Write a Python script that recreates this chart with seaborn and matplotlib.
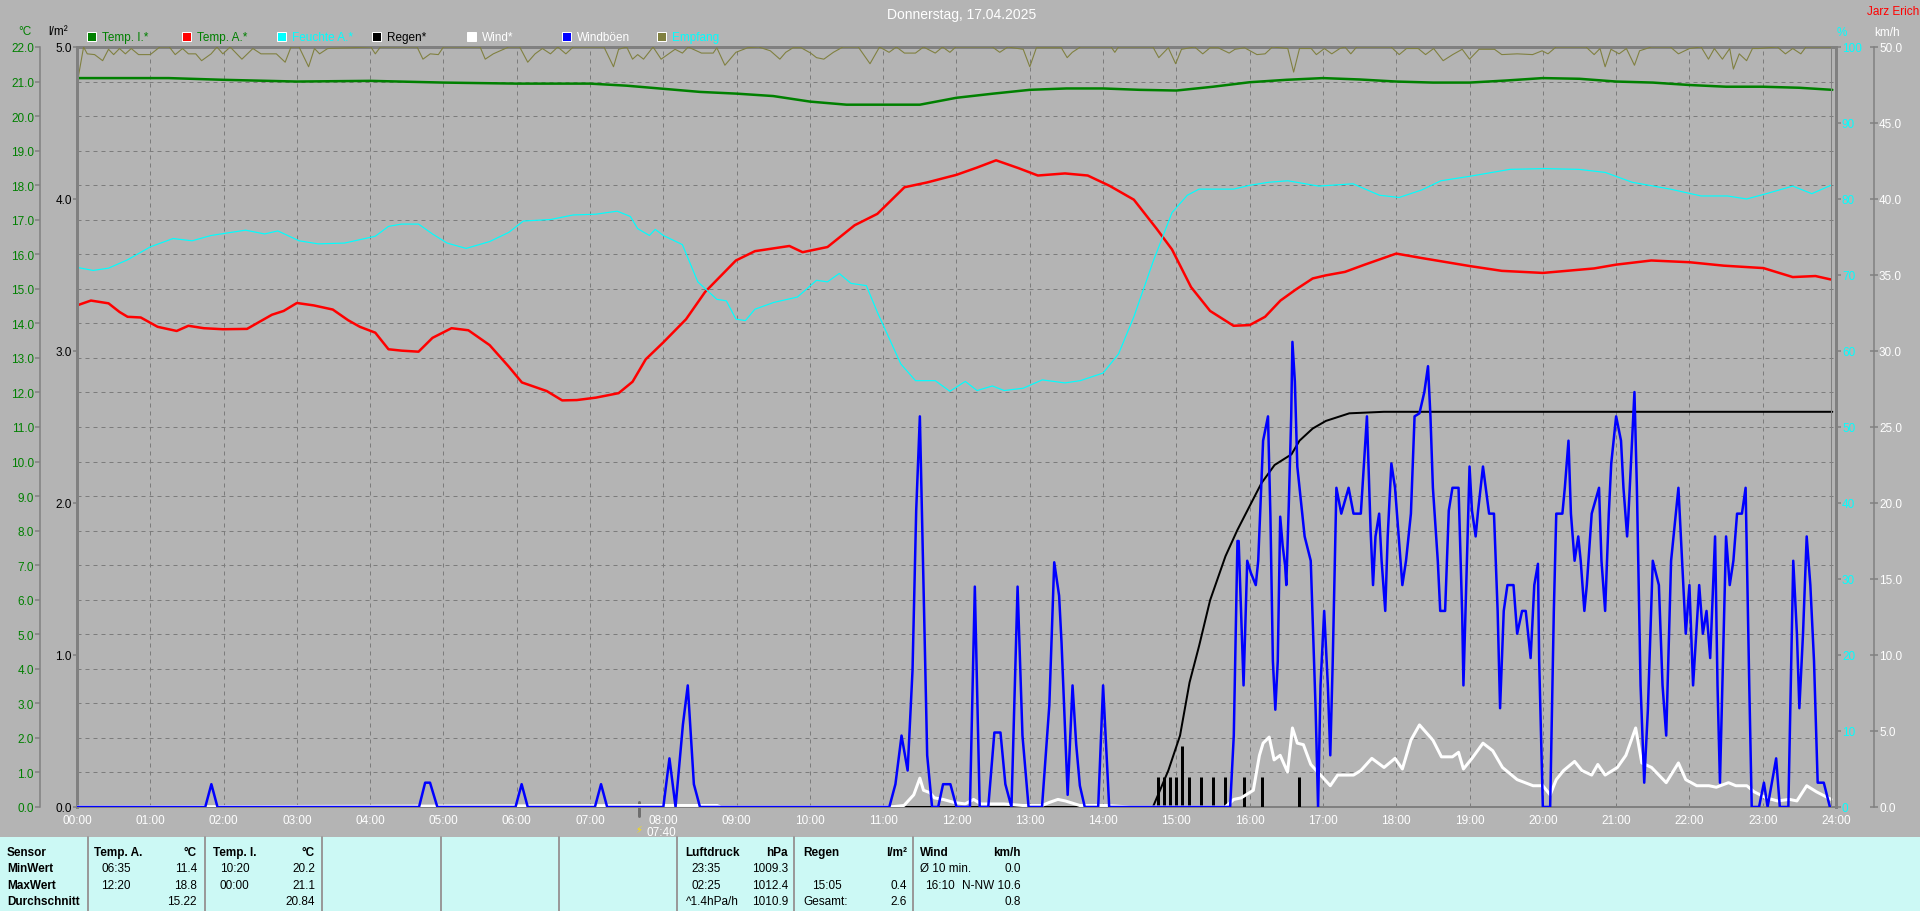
import numpy as np
import matplotlib
matplotlib.use('Agg')
import matplotlib.pyplot as plt
import seaborn as sns
from matplotlib.patches import Rectangle
from matplotlib.lines import Line2D

# ---------------- data ----------------
hours = list(range(25))

temp_i_h = [0, 1.25, 2, 3, 4, 5, 6, 7, 7.5, 8, 8.5, 9, 9.5, 10, 10.5, 11, 11.5, 12, 12.5, 13,
            13.5, 14, 14.5, 15, 15.5, 16, 16.5, 17, 17.5, 18, 18.5, 19, 19.5, 20, 20.5, 21,
            21.5, 22, 22.5, 23, 23.5, 23.95]
temp_i = [21.1, 21.1, 21.05, 21.0, 21.02, 20.97, 20.94, 20.94, 20.88, 20.79, 20.7, 20.65, 20.58,
          20.42, 20.33, 20.33, 20.33, 20.53, 20.65, 20.76, 20.8, 20.8, 20.76, 20.74, 20.85, 20.98,
          21.05, 21.1, 21.06, 21.0, 20.97, 20.97, 21.03, 21.1, 21.08, 21.0, 20.97, 20.9, 20.85,
          20.85, 20.82, 20.76]

temp_a_h = [0, 0.19, 0.43, 0.58, 0.69, 0.87, 1.1, 1.36, 1.52, 1.73, 1.99, 2.32, 2.66, 2.82, 3.0,
            3.23, 3.49, 3.7, 3.86, 4.07, 4.25, 4.43, 4.66, 4.85, 5.11, 5.34, 5.63, 5.89, 6.07, 6.41,
            6.62, 6.82, 7.08, 7.39, 7.58, 7.76, 8.0, 8.31, 8.57, 8.99, 9.25, 9.72, 9.9, 10.24, 10.61,
            10.92, 11.29, 11.6, 12.0, 12.28, 12.54, 12.85, 13.11, 13.48, 13.79, 14.09, 14.42, 14.73,
            14.94, 15.2, 15.46, 15.78, 16.0, 16.21, 16.42, 16.63, 16.86, 17.04, 17.3, 17.57, 18.0,
            18.35, 19.0, 19.44, 20.0, 20.7, 21.0, 21.48, 22.0, 22.47, 23.01, 23.41, 23.72, 23.93]
temp_a = [14.52, 14.66, 14.58, 14.33, 14.19, 14.17, 13.9, 13.78, 13.93, 13.86, 13.83, 13.84, 14.25,
          14.36, 14.59, 14.52, 14.4, 14.09, 13.9, 13.73, 13.25, 13.21, 13.18, 13.58, 13.86, 13.8,
          13.37, 12.75, 12.29, 12.04, 11.77, 11.78, 11.85, 11.98, 12.31, 12.96, 13.45, 14.12, 14.91,
          15.82, 16.09, 16.24, 16.06, 16.21, 16.84, 17.17, 17.94, 18.08, 18.3, 18.51, 18.72, 18.49,
          18.28, 18.34, 18.28, 17.98, 17.58, 16.74, 16.14, 15.05, 14.36, 13.93, 13.95, 14.19, 14.66,
          14.98, 15.3, 15.39, 15.49, 15.7, 16.02, 15.89, 15.66, 15.52, 15.46, 15.59, 15.7, 15.82,
          15.77, 15.67, 15.6, 15.34, 15.37, 15.27]

hum_h = [0, 0.22, 0.43, 0.69, 1.0, 1.31, 1.57, 1.83, 2.3, 2.56, 2.74, 3.03, 3.29, 3.65, 4.07, 4.25,
         4.43, 4.66, 4.85, 5.05, 5.31, 5.63, 5.89, 6.09, 6.46, 6.77, 7.08, 7.37, 7.55, 7.65, 7.81,
         7.89, 8.0, 8.26, 8.47, 8.73, 8.86, 8.99, 9.12, 9.25, 9.51, 9.83, 10.09, 10.24, 10.4, 10.56,
         10.77, 10.92, 11.24, 11.44, 11.71, 11.91, 12.12, 12.28, 12.49, 12.65, 12.91, 13.17, 13.48,
         13.69, 14.0, 14.21, 14.42, 14.68, 14.94, 15.15, 15.31, 15.78, 16.0, 16.26, 16.52, 16.94,
         17.41, 17.77, 18.04, 18.35, 18.61, 19.01, 19.55, 20.02, 20.49, 20.85, 21.22, 21.74, 22.16,
         22.52, 22.78, 23.05, 23.41, 23.67, 23.93]
hum = [71.0, 70.6, 70.9, 72.0, 73.7, 74.8, 74.5, 75.2, 75.9, 75.4, 75.8, 74.5, 74.1, 74.2, 75.1,
       76.4, 76.7, 76.7, 75.4, 74.2, 73.5, 74.4, 75.6, 77.1, 77.3, 77.9, 78.0, 78.4, 77.7, 76.1,
       75.2, 76.0, 75.2, 74.0, 69.1, 66.8, 66.6, 64.2, 64.0, 65.5, 66.4, 67.1, 69.3, 69.1, 70.2,
       68.9, 68.6, 65.1, 58.3, 56.1, 56.1, 54.7, 56.0, 54.8, 55.4, 54.8, 55.1, 56.2, 55.8, 56.1,
       57.1, 59.6, 64.5, 71.7, 78.2, 80.5, 81.3, 81.3, 81.8, 82.2, 82.4, 81.7, 82.0, 80.5, 80.2,
       81.2, 82.4, 83.0, 83.9, 84.0, 83.9, 83.5, 82.2, 81.3, 80.4, 80.4, 80.0, 80.7, 81.7, 80.7, 81.8]

rain_sum_h = [0, 14.68, 14.89, 15.05, 15.18, 15.31, 15.46, 15.67, 15.83, 16.0, 16.16, 16.34, 16.57,
              16.68, 16.86, 17.04, 17.36, 17.83, 23.95]
rain_sum = [0, 0, 0.24, 0.47, 0.82, 1.06, 1.36, 1.65, 1.82, 1.98, 2.13, 2.25, 2.32, 2.41, 2.49,
            2.54, 2.59, 2.6, 2.6]

rain_times = ['14:45', '14:50', '14:55', '15:00', '15:05', '15:10', '15:20', '15:30', '15:40',
              '15:55', '16:10', '16:40']
rain_amount = [0.2, 0.2, 0.2, 0.2, 0.4, 0.2, 0.2, 0.2, 0.2, 0.2, 0.2, 0.2]

# (hour, % reception)
empfang = [(0.0, 95.1), (0.09, 100), (0.14, 99.1), (0.24, 99.0), (0.35, 98.2), (0.43, 99.7),
           (0.5, 99.0), (0.58, 99.8), (0.66, 99.1), (0.74, 99.8), (0.84, 99.0), (1.0, 99.0),
           (1.13, 100), (1.26, 100), (1.34, 99.0), (1.44, 99.8), (1.52, 99.1), (1.62, 99.1),
           (1.7, 98.2), (1.83, 99.1), (1.91, 100), (1.99, 99.1), (2.09, 100), (2.25, 98.4),
           (2.4, 99.8), (2.51, 99.1), (2.72, 99.1), (2.84, 98.0), (2.92, 100), (3.03, 100),
           (3.16, 97.4), (3.24, 99.8), (3.31, 99.1), (3.42, 99.8), (4.01, 100), (4.07, 99.1),
           (4.14, 100), (4.64, 100), (4.72, 98.4), (4.82, 99.1), (4.93, 99.0), (5.0, 100),
           (5.5, 100), (5.57, 98.4), (5.68, 99.1), (5.89, 100), (6.04, 100), (6.15, 98.0),
           (6.25, 99.1), (6.35, 99.8), (6.46, 99.1), (6.56, 100), (6.67, 99.1), (6.77, 100),
           (7.19, 100), (7.32, 97.4), (7.39, 99.7), (7.5, 100), (7.58, 98.4), (7.65, 99.0),
           (7.73, 98.4), (7.86, 100), (7.97, 98.4), (8.16, 99.7), (8.26, 99.2), (8.34, 100),
           (8.52, 99.2), (8.68, 99.2), (8.73, 99.9), (8.84, 97.6), (8.99, 99.3), (9.15, 99.9),
           (9.3, 100), (9.46, 99.5), (9.59, 98.4), (9.67, 99.3), (9.77, 99.9), (9.88, 99.9),
           (10.01, 99.2), (10.09, 98.6), (10.19, 98.4), (10.32, 99.3), (10.45, 100), (10.66, 100),
           (10.82, 97.8), (10.95, 100), (11.08, 99.3), (11.18, 100), (11.29, 99.2), (11.44, 99.2),
           (11.55, 100), (11.71, 99.2), (11.81, 100), (11.91, 99.3), (11.99, 100), (12.49, 100),
           (12.59, 99.3), (12.7, 100), (12.91, 99.7), (13.0, 97.4), (13.09, 99.9), (13.43, 99.9),
           (13.51, 98.6), (13.58, 99.3), (13.69, 100), (14.11, 100), (14.16, 99.3), (14.21, 100),
           (14.68, 100), (14.76, 98.6), (14.89, 99.9), (14.99, 97.8), (15.07, 99.7), (15.25, 100),
           (15.36, 99.1), (15.46, 99.9), (15.57, 99.9), (15.72, 99.2), (15.8, 99.7), (15.93, 99.9),
           (16.1, 99.0), (16.21, 99.1), (16.31, 100), (16.52, 99.8), (16.6, 96.7), (16.68, 99.8),
           (16.84, 99.8), (16.91, 99.0), (17.02, 99.8), (17.12, 99.1), (17.23, 99.8), (17.3, 100),
           (17.38, 99.1), (17.46, 100), (17.93, 100), (18.04, 99.0), (18.14, 99.8), (18.3, 99.8),
           (18.4, 99.0), (18.51, 99.8), (18.64, 98.2), (18.77, 99.0), (18.9, 99.7), (19.0, 98.4),
           (19.13, 99.7), (19.34, 99.7), (19.44, 99.0), (19.65, 99.1), (19.86, 99.0), (19.99, 99.5),
           (20.07, 99.1), (20.18, 100), (20.59, 100), (20.7, 99.0), (20.78, 99.8), (20.85, 97.4),
           (20.93, 99.7), (21.04, 99.1), (21.14, 99.8), (21.25, 97.6), (21.32, 99.5), (21.48, 100),
           (21.74, 100), (21.85, 99.1), (22.0, 99.8), (22.16, 100), (22.26, 98.4), (22.34, 99.8),
           (22.45, 98.4), (22.55, 99.8), (22.6, 97.1), (22.68, 99.1), (22.78, 98.2), (22.86, 99.8),
           (22.94, 99.8), (23.2, 100), (23.31, 99.1), (23.41, 99.8), (23.52, 99.1), (23.59, 100),
           (23.93, 100)]

# (minute of day, km/h)
gusts = [(0, 0), (105, 0), (110, 1.5), (115, 0), (280, 0), (285, 1.6), (289, 1.6), (295, 0),
         (359, 0), (364, 1.5), (369, 0), (424, 0), (429, 1.5), (434, 0), (480, 0), (485, 3.2),
         (490, 0), (496, 5.4), (500, 8.0), (505, 1.5), (510, 0), (665, 0), (670, 1.5), (675, 4.7),
         (680, 2.4), (684, 9.0), (687, 19.5), (690, 25.7), (692, 18.2), (694, 10.6), (696, 3.4),
         (700, 0), (705, 0), (709, 1.5), (715, 1.5), (720, 0), (731, 0), (735, 14.5), (739, 0),
         (746, 0), (751, 4.9), (756, 4.9), (760, 1.5), (765, 0), (770, 14.5), (774, 4.7), (779, 0),
         (790, 0), (796, 6.7), (800, 16.1), (804, 13.9), (806, 10.8), (809, 4.7), (811, 0.8),
         (815, 8.0), (818, 4.1), (821, 1.4), (825, 0), (836, 0), (840, 8.0), (845, 0), (944, 0),
         (947, 4.7), (950, 17.5), (951, 17.5), (955, 8.0), (958, 16.2), (961, 15.4), (965, 14.6),
         (967, 16.2), (971, 24.1), (975, 25.7), (977, 19.1), (979, 9.6), (981, 6.4), (983, 9.6),
         (985, 19.1), (987, 17.2), (989, 15.9), (990, 14.6), (992, 19.8), (994, 25.7), (995, 30.6),
         (997, 28.0), (999, 22.4), (1002, 20.1), (1005, 17.8), (1010, 16.2), (1012, 11.4),
         (1014, 6.4), (1016, 0), (1018, 8.0), (1021, 12.9), (1024, 8.0), (1026, 3.4), (1028, 9.6),
         (1031, 21.0), (1035, 19.3), (1041, 21.0), (1045, 19.3), (1051, 19.3), (1056, 25.7),
         (1059, 18.2), (1061, 14.6), (1063, 17.8), (1066, 19.3), (1068, 16.2), (1071, 12.9),
         (1073, 17.8), (1076, 22.6), (1079, 21.0), (1082, 17.8), (1085, 14.6), (1088, 16.2),
         (1092, 19.3), (1095, 25.7), (1099, 25.9), (1103, 27.3), (1106, 29.0), (1108, 25.7),
         (1110, 21.0), (1114, 16.2), (1116, 12.9), (1120, 12.9), (1123, 19.5), (1126, 21.0),
         (1131, 21.0), (1134, 12.6), (1135, 8.0), (1138, 16.5), (1140, 22.4), (1142, 19.5),
         (1145, 17.8), (1147, 19.5), (1151, 22.4), (1156, 19.3), (1160, 19.3), (1163, 12.9),
         (1165, 6.5), (1168, 12.9), (1171, 14.6), (1176, 14.6), (1179, 11.4), (1183, 12.9),
         (1186, 12.9), (1190, 9.8), (1193, 14.6), (1196, 16.0), (1197, 9.6), (1200, 0), (1206, 0),
         (1209, 12.9), (1211, 19.3), (1216, 19.3), (1218, 21.0), (1221, 24.1), (1223, 19.3),
         (1226, 16.2), (1229, 17.8), (1231, 16.2), (1234, 12.9), (1236, 14.6), (1240, 19.3),
         (1246, 21.0), (1248, 16.2), (1251, 12.9), (1254, 19.3), (1256, 22.6), (1260, 25.7),
         (1264, 24.1), (1266, 21.0), (1269, 17.8), (1270, 19.1), (1273, 24.1), (1275, 27.3),
         (1277, 21.0), (1280, 8.0), (1283, 1.6), (1286, 6.4), (1290, 16.2), (1295, 14.6),
         (1298, 8.0), (1301, 4.7), (1305, 16.2), (1311, 21.0), (1314, 16.2), (1317, 11.4),
         (1320, 14.6), (1323, 8.0), (1328, 14.6), (1331, 11.4), (1334, 12.9), (1337, 9.8),
         (1341, 17.8), (1343, 8.0), (1345, 1.6), (1350, 17.8), (1353, 14.6), (1356, 16.2),
         (1359, 19.3), (1363, 19.3), (1366, 21.0), (1369, 8.0), (1371, 0), (1377, 0), (1381, 1.6),
         (1384, 0), (1391, 3.2), (1394, 0), (1401, 0), (1405, 16.2), (1408, 11.4), (1410, 6.5),
         (1413, 11.4), (1416, 17.8), (1419, 14.6), (1422, 9.6), (1425, 1.6), (1430, 1.6), (1435, 0)]

# (minute of day, km/h)
wind = [(0, 0), (480, 0.1), (524, 0.1), (527, 0), (665, 0), (677, 0.1), (685, 0.8), (690, 1.9),
        (693, 1.1), (698, 0.95), (702, 0.6), (709, 0.5), (718, 0.3), (727, 0.2), (734, 0.5),
        (740, 0.2), (759, 0.2), (774, 0.1), (790, 0.1), (796, 0.3), (803, 0.5), (809, 0.4),
        (821, 0.1), (843, 0.1), (862, 0), (940, 0), (947, 0.5), (953, 0.6), (963, 1.1), (968, 3.4),
        (971, 4.2), (976, 4.6), (980, 3.1), (985, 3.4), (991, 2.3), (995, 5.2), (999, 4.2),
        (1004, 4.1), (1010, 2.8), (1018, 2.1), (1026, 1.4), (1032, 2.1), (1045, 2.1), (1051, 2.4),
        (1060, 3.2), (1070, 2.6), (1079, 3.2), (1085, 2.5), (1092, 4.4), (1099, 5.4), (1110, 4.4),
        (1117, 3.3), (1126, 3.3), (1131, 3.6), (1135, 2.5), (1142, 3.2), (1151, 4.2), (1159, 3.7),
        (1167, 2.6), (1179, 1.8), (1192, 1.4), (1200, 1.4), (1206, 0.8), (1211, 1.8), (1217, 2.4),
        (1226, 3.0), (1232, 2.4), (1240, 2.1), (1245, 2.8), (1251, 2.1), (1261, 2.6), (1268, 3.4),
        (1276, 5.2), (1281, 2.9), (1289, 2.6), (1301, 1.6), (1311, 2.9), (1317, 1.8), (1326, 1.4),
        (1336, 1.4), (1342, 1.3), (1352, 1.6), (1358, 1.4), (1367, 1.4), (1373, 1.0), (1383, 0.6),
        (1392, 0.4), (1402, 0.5), (1408, 0.4), (1416, 1.4), (1424, 1.0), (1436, 0.5)]

legend_labels = ['Temp. I.*', 'Temp. A.*', 'Feuchte A.*', 'Regen*', 'Wind*', 'Windböen', 'Empfang']

# ---------------- style ----------------
W, H = 1920, 912
BG = '#B4B4B4'
SP = '#808080'
TBL = '#CCF9F5'
GREEN, RED, CYAN, BLUE, OLIVE = '#008000', '#FF0000', '#00FFFF', '#0000FF', '#808040'
FS = 8.5


def pt(px):
    return px * 0.72


def ftext(x, y, s, **kw):
    kw.setdefault('va', 'center')
    kw.setdefault('fontsize', FS)
    fig.text(x / W, 1 - y / H, s, **kw)


sns.set_style('ticks')
plt.rcParams['font.family'] = ['Liberation Sans Narrow', 'Liberation Sans', 'DejaVu Sans']
plt.rcParams['axes.unicode_minus'] = False

fig = plt.figure(figsize=(19.2, 9.12), dpi=100)
fig.patch.set_facecolor(BG)

L, R, T, B = 77, 1836, 48, 808
ax = fig.add_axes([L / W, 1 - B / H, (R - L) / W, (B - T) / H])
ax.set_facecolor(BG)

# temperatures (°C axis)
sns.lineplot(x=temp_i_h, y=temp_i, ax=ax, color=GREEN, lw=pt(2.5), estimator=None)
sns.lineplot(x=temp_a_h, y=temp_a, ax=ax, color=RED, lw=pt(2.5), estimator=None)

# humidity / reception (% axis)
ax_h = ax.twinx()
sns.lineplot(x=hum_h, y=hum, ax=ax_h, color=CYAN, lw=pt(1.2), estimator=None)
emp_h, emp_v = zip(*empfang)
sns.lineplot(x=list(emp_h), y=list(emp_v), ax=ax_h, color=OLIVE, lw=pt(1.1), estimator=None)

# rain (l/m² axis)
ax_r = ax.twinx()
sns.lineplot(x=rain_sum_h, y=rain_sum, ax=ax_r, color='black', lw=pt(2), estimator=None)
rain_h = [int(t[:2]) + int(t[3:]) / 60 for t in rain_times]
ax_r.vlines(rain_h, 0, rain_amount, color='black', lw=pt(3))

# wind (km/h axis)
ax_w = ax.twinx()
w_m, w_v = zip(*wind)
g_m, g_v = zip(*gusts)
sns.lineplot(x=[m / 60 for m in w_m], y=list(w_v), ax=ax_w, color='white', lw=pt(3), estimator=None)
sns.lineplot(x=[m / 60 for m in g_m], y=list(g_v), ax=ax_w, color=BLUE, lw=pt(2.5), estimator=None)
ax_w.axvline(23.93, color=SP, lw=pt(1))

# ---- axes cosmetics ----
ax.set_xlim(0, 24)
ax.set_ylim(0, 22)
ax.set_xticks(hours)
ax.set_xticklabels([f'{h:02d}:00' for h in hours])
ax.set_yticks(range(23))
ax.set_yticklabels([f'{v:.1f}' for v in range(23)])
ax.grid(True, color='#7C7C7C', linestyle=(0, (4, 4)), linewidth=pt(1))
for s in ax.spines.values():
    s.set_color(SP)
ax.spines['right'].set_visible(False)
ax.spines['left'].set_position(('outward', pt(37)))
ax.spines['left'].set_linewidth(pt(1.5))
ax.spines['top'].set_linewidth(pt(3))
ax.spines['bottom'].set_linewidth(pt(2))
ax.tick_params(axis='y', colors=SP, labelcolor=GREEN, length=pt(5), width=pt(1.5), pad=pt(1),
               labelsize=FS)
ax.tick_params(axis='x', length=0, labelcolor='white', labelsize=FS, pad=pt(7))
ax.set_xlabel('')
ax.set_ylabel('')

for a in (ax_h, ax_r, ax_w):
    for s in a.spines.values():
        s.set_visible(False)
    a.set_xlim(0, 24)
    a.set_xlabel('')
    a.set_ylabel('')

ax_h.set_ylim(0, 100)
ax_h.set_yticks(range(0, 101, 10))
ax_h.set_yticklabels([str(v) for v in range(0, 101, 10)])
ax_h.spines['right'].set_visible(True)
ax_h.spines['right'].set_color(SP)
ax_h.spines['right'].set_linewidth(pt(3))
ax_h.tick_params(axis='y', colors=SP, labelcolor=CYAN, length=pt(5), width=pt(1.5), pad=pt(1),
                 labelsize=FS)

ax_r.set_ylim(0, 5)
ax_r.yaxis.tick_left()
ax_r.set_yticks(range(6))
ax_r.set_yticklabels([f'{v:.1f}' for v in range(6)])
ax_r.spines['left'].set_visible(True)
ax_r.spines['left'].set_color(SP)
ax_r.spines['left'].set_linewidth(pt(3))
ax_r.tick_params(axis='y', colors=SP, labelcolor='black', length=pt(4), width=pt(1.5), pad=pt(1),
                 labelsize=FS)

ax_w.set_ylim(0, 50)
ax_w.set_yticks(range(0, 51, 5))
ax_w.set_yticklabels([f'{v:.1f}' for v in range(0, 51, 5)])
ax_w.spines['right'].set_visible(True)
ax_w.spines['right'].set_position(('outward', pt(38)))
ax_w.spines['right'].set_color(SP)
ax_w.spines['right'].set_linewidth(pt(1.5))
ax_w.tick_params(axis='y', colors=SP, labelcolor='white', direction='inout', length=pt(8),
                 width=pt(1.5), pad=pt(1), labelsize=FS)

# 07:40 marker below the axis
t_mark = 7 + 40 / 60
ax.plot([t_mark, t_mark], [0.006, -0.012], transform=ax.get_xaxis_transform(), color='#6E6E6E',
        lw=pt(3), clip_on=False)
ax.text(t_mark + 0.11, -0.033, '07:40', transform=ax.get_xaxis_transform(), color='white',
        fontsize=FS, ha='left', va='center')
ax.text(t_mark, -0.029, '\u26a1', transform=ax.get_xaxis_transform(), color='#FFE000',
        fontsize=7, ha='center', va='center', family=['DejaVu Sans'])

# ---- header texts ----
ftext(962, 15, 'Donnerstag, 17.04.2025', color='white', ha='center', fontsize=10)
ftext(1893, 12, 'Jarz Erich', color='red', ha='center')
ftext(25, 32, '°C', color=GREEN, ha='center')
ftext(58, 32, 'l/m²', color='black', ha='center')
ftext(1842, 33, '%', color=CYAN, ha='center')
ftext(1887, 33, 'km/h', color='white', ha='center')

leg_colors = [GREEN, RED, CYAN, 'black', 'white', BLUE, OLIVE]
leg_text_colors = [GREEN, GREEN, CYAN, 'black', 'white', 'white', CYAN]
for i, (lab, c, tc) in enumerate(zip(legend_labels, leg_colors, leg_text_colors)):
    x0 = 87 + i * 95
    fig.add_artist(Rectangle((x0 / W, 1 - 42 / H), 9 / W, 9 / H, transform=fig.transFigure,
                             facecolor=c, edgecolor='white', lw=pt(1)))
    ftext(x0 + 15, 38, lab, color=tc, ha='left')

# ---- bottom table ----
fig.add_artist(Rectangle((0, 0), 1, 74 / H, transform=fig.transFigure, facecolor=TBL,
                         edgecolor='none'))
for xs in [88, 205, 322, 441, 559, 677, 794, 913]:
    fig.add_artist(Line2D([xs / W, xs / W], [0, 74 / H], transform=fig.transFigure,
                          color='#9A9A9A', lw=pt(2)))

rows = [853, 869, 886, 902]
for y, s in zip(rows, ['Sensor', 'MinWert', 'MaxWert', 'Durchschnitt']):
    ftext(7, y, s, color='black', ha='left', fontweight='bold')

table_cols = [
    # (header x, left column x, right column x, header, unit, left column, right column)
    (94, 101, 197, 'Temp. A.', '°C', ['06:35', '12:20', ''], ['11.4', '18.8', '15.22']),
    (213, 220, 315, 'Temp. I.', '°C', ['10:20', '00:00', ''], ['20.2', '21.1', '20.84']),
    (685, 691, 788, 'Luftdruck', 'hPa', ['23:35', '02:25', ''], ['1009.3', '1012.4', '1010.9']),
    (803, 812, 907, 'Regen', 'l/m²', ['', '15:05', ''], ['', '0.4', '2.6']),
    (920, 925, 1021, 'Wind', 'km/h', ['', '16:10', ''], ['0.0', 'N-NW 10.6', '0.8']),
]
for xh, xl, xr, head, unit, lefts, rights in table_cols:
    ftext(xh, rows[0], head, color='black', ha='left', fontweight='bold')
    ftext(xr, rows[0], unit, color='black', ha='right', fontweight='bold')
    for y, sl, sr in zip(rows[1:], lefts, rights):
        if sl:
            ftext(xl, y, sl, color='black', ha='left')
        if sr:
            ftext(xr, y, sr, color='black', ha='right')
ftext(686, rows[3], '^1.4hPa/h', color='black', ha='left')
ftext(803, rows[3], 'Gesamt:', color='black', ha='left')
ftext(920, rows[1], 'Ø 10 min.', color='black', ha='left')

fig.savefig('out.png', dpi=100, facecolor=BG)
